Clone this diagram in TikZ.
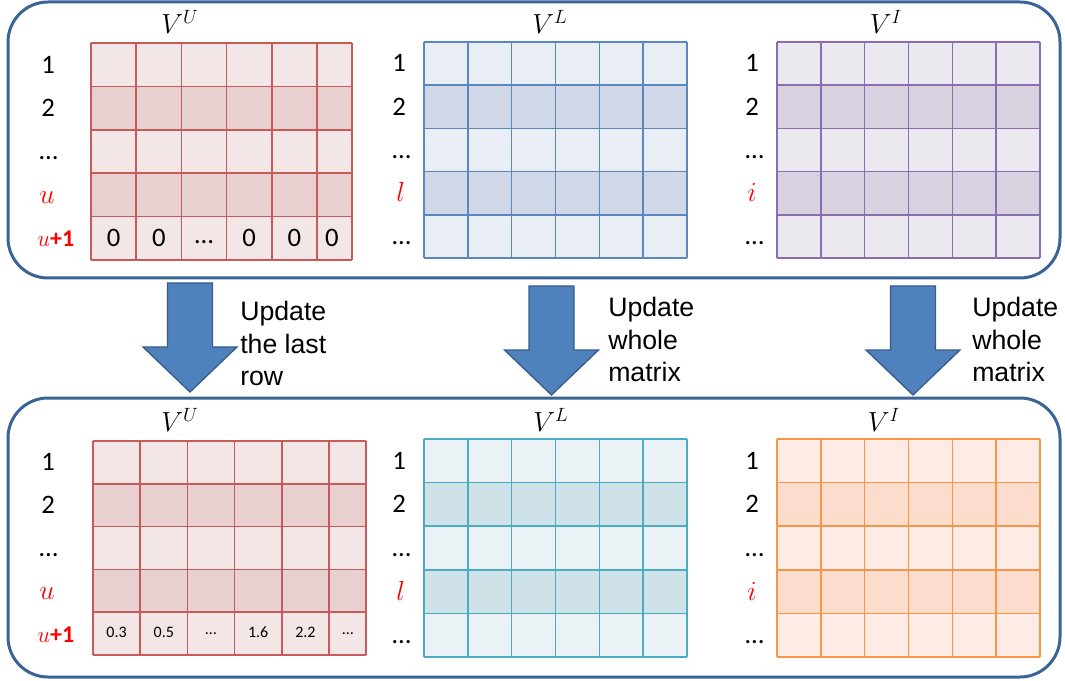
\documentclass[tikz,border=0pt]{standalone}
\usepackage{fontspec}
\setmainfont{Carlito}
\newfontfamily\arialfont{Liberation Sans}

\definecolor{boxblue}{HTML}{3A6496}
\definecolor{arrowfill}{HTML}{4F81BD}
\definecolor{arrowedge}{HTML}{385D8A}
\definecolor{labred}{HTML}{FF0000}
\definecolor{redlight}{HTML}{F2E6E6}
\definecolor{reddark}{HTML}{E8D0D0}
\definecolor{redline}{HTML}{C85A5A}
\definecolor{bluelight}{HTML}{E9EDF4}
\definecolor{bluedark}{HTML}{D0D8E8}
\definecolor{blueline}{HTML}{5B87C0}
\definecolor{purplight}{HTML}{ECE8F0}
\definecolor{purpdark}{HTML}{D8D2E0}
\definecolor{purpline}{HTML}{8A6FB0}
\definecolor{teallight}{HTML}{EAF2F5}
\definecolor{tealdark}{HTML}{CFE2E8}
\definecolor{tealline}{HTML}{4BACC6}
\definecolor{orglight}{HTML}{FDECE6}
\definecolor{orgdark}{HTML}{FBDCCD}
\definecolor{orgline}{HTML}{F79646}

\tikzstyle{panel} = [draw=boxblue, line width=2.25pt, rounded corners=30pt]
\tikzstyle{gridline} = [line width=1.2pt]
\tikzstyle{rowlab} = [anchor=west, inner sep=0pt, text height=12.6pt, text depth=0pt,
    font=\fontsize{20}{22}\selectfont]
\tikzstyle{mattitle} = [inner sep=0pt, font=\fontsize{20}{22}\selectfont]
\tikzstyle{bigcell} = [inner sep=0pt, font=\fontsize{20}{22}\selectfont]
\tikzstyle{smallcell} = [inner sep=0pt, font=\fontsize{12}{14}\selectfont]
\tikzstyle{note} = [anchor=north west, align=left, inner sep=0pt,
    font=\arialfont\fontsize{20}{24.5}\selectfont]
\tikzstyle{bigarrow} = [fill=arrowfill, draw=arrowedge, line width=1pt]

\newcommand{\redvar}[1]{\textcolor{labred}{\fontsize{22}{24}\selectfont$#1$}}

% left, top, right, bottom, column step, light, dark, line colour
\newcommand{\gridmat}[8]{
  \pgfmathsetmacro{\rh}{(#4-#2)/5}
  \foreach \r in {0,...,4} {
    \pgfmathtruncatemacro{\odd}{mod(\r,2)}
    \ifnum\odd=0 \def\fc{#6}\else \def\fc{#7}\fi
    \fill[\fc] (#1,#2+\r*\rh) rectangle (#3,#2+\r*\rh+\rh);
  }
  \foreach \c in {0,...,5} \draw[#8, gridline] (#1+\c*#5,#2) -- (#1+\c*#5,#4);
  \draw[#8, gridline] (#3,#2) -- (#3,#4);
  \foreach \r in {0,...,5} \draw[#8, gridline] (#1,#2+\r*\rh) -- (#3,#2+\r*\rh);
}

% centre x, top y
\newcommand{\blockarrow}[2]{
  \draw[bigarrow] (#1-22.5,#2) -- (#1+22.5,#2) -- (#1+22.5,#2+64) -- (#1+47,#2+64)
    -- (#1,#2+109) -- (#1-47,#2+64) -- (#1-22.5,#2+64) -- cycle;
}

\begin{document}
\begin{tikzpicture}[x=0.75pt, y=-0.75pt]
  \fill[white] (0,0) rectangle (1065,681);
  \useasboundingbox (0,0) rectangle (1065,681);

  % panels
  \draw[panel] (8,2) rectangle (1060,278);
  \draw[panel] (8,398) rectangle (1060,677);

  % top matrices
  \gridmat{91}{43}{352}{260}{45.2}{redlight}{reddark}{redline}
  \gridmat{424}{42}{687}{258}{43.83}{bluelight}{bluedark}{blueline}
  \gridmat{777}{42}{1040}{258}{43.83}{purplight}{purpdark}{purpline}

  % bottom matrices
  \gridmat{93}{441}{366}{655}{47.2}{redlight}{reddark}{redline}
  \gridmat{424}{439}{687}{657}{43.83}{teallight}{tealdark}{tealline}
  \gridmat{777}{439}{1040}{657}{43.83}{orglight}{orgdark}{orgline}

  % titles
  \node[mattitle] (tU) at (180,22) {$V^U$};
  \node[mattitle] (tL) at (550,22) {$V^L$};
  \node[mattitle] (tI) at (886,22) {$V^I$};
  \node[mattitle] (bU) at (180,420) {$V^U$};
  \node[mattitle] (bL) at (551,420) {$V^L$};
  \node[mattitle] (bI) at (884,420) {$V^I$};

  % row labels, top
  \node[rowlab] (tU1) at (41,64.7) {1};
  \node[rowlab] (tU2) at (41,108.1) {2};
  \node[rowlab] (tU3) at (39,151.5) {\ldots};
  \node[rowlab] (tU4) at (39,194.9) {\redvar{u}};
  \node[rowlab] (tU5) at (37,238.3) {\textcolor{labred}{\fontsize{18}{20}\selectfont$u$\textbf{+1}}};
  \node[rowlab] (tL1) at (392,63.6) {1};
  \node[rowlab] (tL2) at (392,106.8) {2};
  \node[rowlab] (tL3) at (392,150) {\ldots};
  \node[rowlab] (tL4) at (396,193.2) {\redvar{l}};
  \node[rowlab] (tL5) at (392,236.4) {\ldots};
  \node[rowlab] (tI1) at (745,63.6) {1};
  \node[rowlab] (tI2) at (745,106.8) {2};
  \node[rowlab] (tI3) at (745,150) {\ldots};
  \node[rowlab] (tI4) at (747,193.2) {\redvar{i}};
  \node[rowlab] (tI5) at (745,236.4) {\ldots};

  % row labels, bottom
  \node[rowlab] (bU1) at (41,462.4) {1};
  \node[rowlab] (bU2) at (41,505.2) {2};
  \node[rowlab] (bU3) at (39,548) {\ldots};
  \node[rowlab] (bU4) at (39,590.8) {\redvar{u}};
  \node[rowlab] (bU5) at (37,633.6) {\textcolor{labred}{\fontsize{18}{20}\selectfont$u$\textbf{+1}}};
  \node[rowlab] (bL1) at (392,460.8) {1};
  \node[rowlab] (bL2) at (392,504.4) {2};
  \node[rowlab] (bL3) at (392,548) {\ldots};
  \node[rowlab] (bL4) at (396,591.6) {\redvar{l}};
  \node[rowlab] (bL5) at (392,635.2) {\ldots};
  \node[rowlab] (bI1) at (745,460.8) {1};
  \node[rowlab] (bI2) at (745,504.4) {2};
  \node[rowlab] (bI3) at (745,548) {\ldots};
  \node[rowlab] (bI4) at (747,591.6) {\redvar{i}};
  \node[rowlab] (bI5) at (745,635.2) {\ldots};

  % last row of the old V^U
  \node[bigcell] (z1) at (113.6,238.3) {0};
  \node[bigcell] (z2) at (158.8,238.3) {0};
  \node[bigcell] (z3) at (204,242) {\ldots};
  \node[bigcell] (z4) at (249.2,238.3) {0};
  \node[bigcell] (z5) at (294.4,238.3) {0};
  \node[bigcell] (z6) at (332,238.3) {0};

  % last row of the new V^U
  \node[smallcell] (n1) at (116.6,632) {0.3};
  \node[smallcell] (n2) at (163.8,632) {0.5};
  \node[smallcell] (n3) at (211,634) {\ldots};
  \node[smallcell] (n4) at (258.2,632) {1.6};
  \node[smallcell] (n5) at (305.4,632) {2.2};
  \node[smallcell] (n6) at (347.8,634) {\ldots};

  % update arrows
  \blockarrow{190}{283}
  \blockarrow{551.5}{286}
  \blockarrow{913}{286}
  \node[note] (upU) at (240,301) {Update\\the last\\row};
  \node[note] (upL) at (608,297) {Update\\whole\\matrix};
  \node[note] (upI) at (972,297) {Update\\whole\\matrix};
\end{tikzpicture}
\end{document}
